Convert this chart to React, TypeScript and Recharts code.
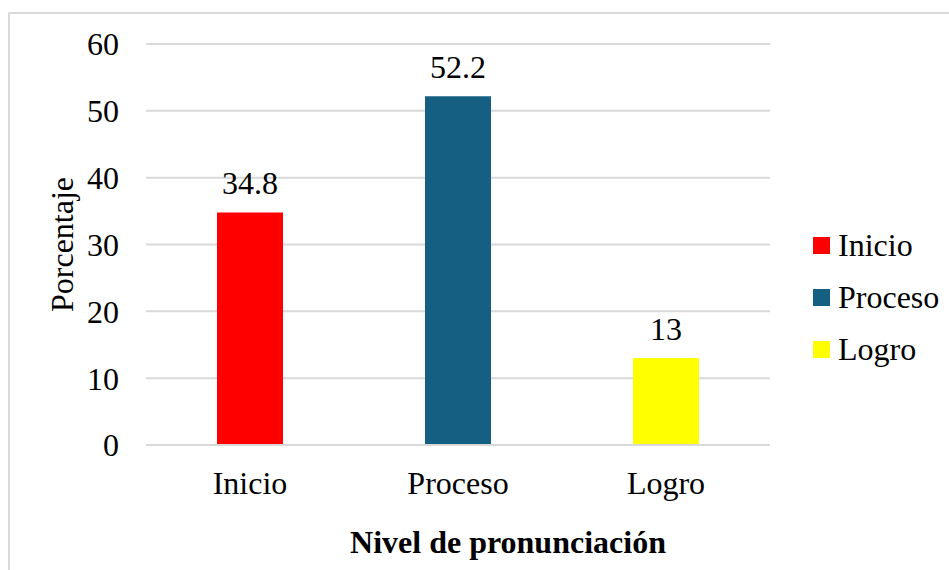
import React from 'react';
import { BarChart, Bar, XAxis, YAxis, CartesianGrid, Cell, LabelList } from 'recharts';

const categories = ['Inicio', 'Proceso', 'Logro'];
const values = [34.8, 52.2, 13];
const colors = ['#FF0000', '#156082', '#FFFF00'];
const yTicks = [0, 10, 20, 30, 40, 50, 60];
const yTitle = 'Porcentaje';
const xTitle = 'Nivel de pronunciación';

const data = categories.map((c, i) => ({ name: c, value: values[i] }));

const FONT = '"Liberation Serif", "Times New Roman", serif';

const YTitle = (props: any) => {
  const vb = props.viewBox || { x: 0, y: 0, width: 0, height: 0 };
  const cx = vb.x + 32;
  const cy = vb.y + vb.height / 2;
  return (
    <text x={cx} y={cy} transform={`rotate(-90, ${cx}, ${cy})`} textAnchor="middle" dominantBaseline="central"
      fontSize={32} fontFamily={FONT} fill="#000">
      {yTitle}
    </text>
  );
};

const XTitle = (props: any) => {
  const vb = props.viewBox || { x: 0, y: 0, width: 0, height: 0 };
  const cx = vb.x + vb.width / 2 + 50;
  const cy = vb.y + 108;
  return (
    <text x={cx} y={cy} textAnchor="middle" fontSize={32} fontWeight="bold" fontFamily={FONT} fill="#000">
      {xTitle}
    </text>
  );
};

const LegendBox = () => (
  <div style={{ position: 'absolute', left: 813, top: 219, fontFamily: FONT, fontSize: 32, color: '#000' }}>
    {categories.map((c, i) => (
      <div key={c} style={{ display: 'flex', alignItems: 'center', height: 52 }}>
        <span style={{ display: 'inline-block', width: 17, height: 17, background: colors[i], marginRight: 8 }} />
        <span style={{ lineHeight: '32px' }}>{c}</span>
      </div>
    ))}
  </div>
);

export default function App() {
  return (
    <div style={{ position: 'absolute', left: 0, top: 0, width: 949, height: 570, overflow: 'hidden', background: '#fff' }}>
      <div style={{ position: 'absolute', left: 8, top: 12, width: 1000, height: 1000, border: '2px solid #d9d9d9', boxSizing: 'border-box' }} />
      <div style={{ position: 'absolute', left: 0, top: 0 }}>
        <BarChart width={949} height={570} data={data} margin={{ top: 44, right: 179, bottom: 95, left: 30 }}>
          <CartesianGrid vertical={false} stroke="#d9d9d9" strokeWidth={2} />
          <XAxis dataKey="name" height={30} tickLine={false} axisLine={{ stroke: '#d9d9d9', strokeWidth: 2 }} tickSize={0} tickMargin={26}
            tick={{ fontSize: 32, fontFamily: FONT, fill: '#000' }} label={<XTitle />} />
          <YAxis width={116} domain={[0, 60]} ticks={yTicks} tickLine={false} axisLine={false} tickSize={0} tickMargin={27}
            tick={{ fontSize: 32, fontFamily: FONT, fill: '#000' }} label={<YTitle />} />
          <Bar dataKey="value" barSize={66} isAnimationActive={false}>
            {data.map((d, i) => (
              <Cell key={d.name} fill={colors[i]} />
            ))}
            <LabelList dataKey="value" position="top" offset={18} style={{ fontSize: 32, fontFamily: FONT, fill: '#000' }} />
          </Bar>
        </BarChart>
      </div>
      <LegendBox />
    </div>
  );
}
